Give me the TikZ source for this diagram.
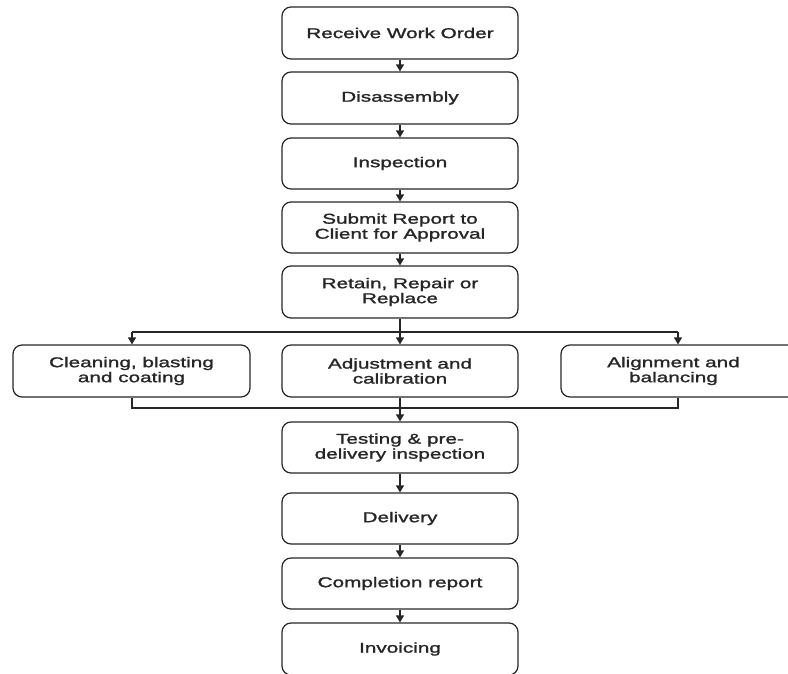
\documentclass[tikz,border=0pt]{standalone}
\usepackage{fontspec}
\newfontfamily\boxfont[FakeStretch=1.46,FakeBold=1.6]{Liberation Sans}
\usetikzlibrary{arrows.meta}
\begin{document}
\begin{tikzpicture}[x=1pt,y=-1pt,
  boxtext/.style={align=center, font=\boxfont\fontsize{14.2pt}{15pt}\selectfont, text=black!85},
  stepbox/.style={boxtext, draw=black!85, line width=1.2pt, rounded corners=9pt,
    minimum width=236pt, minimum height=52pt, inner sep=0pt},
  link/.style={draw=black!85, line width=1.2pt, -{Triangle[width=8pt,length=7pt]}},
  plain/.style={draw=black!85, line width=1.2pt}]
\useasboundingbox (0,0) rectangle (788,673);
\node[stepbox] (a) at (400,33) {Receive Work Order};
\node[stepbox] (b) at (400,98) {Disassembly};
\node[stepbox, minimum height=51pt] (c) at (400,163.5) {Inspection};
\node[stepbox, minimum height=51pt] (d) at (400,227.5) {Submit Report to\\Client for Approval};
\node[stepbox] (e) at (400,292) {Retain, Repair or\\Replace};
\node[stepbox, minimum width=237pt] (l) at (131.5,371) {Cleaning, blasting\\and coating};
\node[stepbox] (m) at (400,371) {Adjustment and\\calibration};
\node[stepbox, minimum width=238pt] (r) at (680,371) {};
\node[boxtext] (rt) at (673.5,371) {Alignment and\\balancing};
\node[stepbox, minimum height=51pt] (f) at (400,447.5) {Testing \& pre-\\delivery inspection};
\node[stepbox, minimum height=51pt] (g) at (400,518.5) {Delivery};
\node[stepbox, minimum height=51pt] (h) at (400,583.5) {Completion report};
\node[stepbox] (i) at (400,649) {Invoicing};
\coordinate (s1) at (132,332);
\coordinate (s2) at (678,332);
\coordinate (j1) at (132,408);
\coordinate (j2) at (678,408);
\coordinate (jc) at (400,408);
\draw[link] (a) -- (b);
\draw[link] (b) -- (c);
\draw[link] (c) -- (d);
\draw[link] (d) -- (e);
\draw[link] (e) -- (m);
\draw[plain] (s1) -- (s2);
\draw[link] (s1) -- (s1 |- l.north);
\draw[link] (s2) -- (s2 |- r.north);
\draw[plain] (l.south -| j1) -- (j1) -- (j2) -- (r.south -| j2);
\draw[plain] (m.south) -- (jc);
\draw[link] (jc) -- (f);
\draw[link] (f) -- (g);
\draw[link] (g) -- (h);
\draw[link] (h) -- (i);
\end{tikzpicture}
\end{document}
